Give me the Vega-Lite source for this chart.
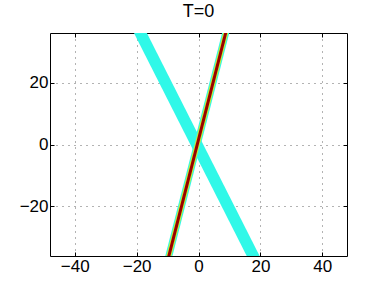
{
  "$schema": "https://vega.github.io/schema/vega-lite/v6.json",
  "width": 297,
  "height": 223,
  "autosize": {"type": "none"},
  "padding": {"left": 50, "top": 33, "right": 37, "bottom": 32},
  "title": {"text": "T=0", "fontSize": 18, "fontWeight": "normal", "font": "Liberation Sans", "offset": 12, "color": "black"},
  "config": {
    "view": {"stroke": "black", "strokeWidth": 1},
    "axis": {
      "domain": false,
      "gridColor": "#000000",
      "gridOpacity": 0.6,
      "gridDash": [1, 5],
      "tickColor": "#000000",
      "tickSize": -4,
      "labelFont": "Liberation Sans",
      "labelFontSize": 17,
      "labelColor": "#000000",
      "labelPadding": 6,
      "title": null
    }
  },
  "datasets": {
    "lines": [
      {"line": "wide", "x": -20.8, "y": 40},
      {"line": "wide", "x": 19.7, "y": -40},
      {"line": "narrow", "x": 9.8, "y": 40},
      {"line": "narrow", "x": -10.6, "y": -40}
    ]
  },
  "data": {"name": "lines"},
  "resolve": {"axis": {"x": "independent", "y": "independent"}},
  "layer": [
    {
      "transform": [{"filter": "datum.line == 'wide'"}],
      "mark": {"type": "line", "clip": true, "color": "#30f8e8", "strokeWidth": 11.5, "strokeCap": "butt"},
      "encoding": {
        "x": {"field": "x", "type": "quantitative", "scale": {"domain": [-48, 48], "nice": false, "zero": false}, "axis": {"values": [-40, -20, 0, 20, 40], "orient": "bottom", "grid": true}},
        "y": {"field": "y", "type": "quantitative", "scale": {"domain": [-36, 36], "nice": false, "zero": false}, "axis": {"values": [-20, 0, 20], "orient": "left", "grid": true}}
      }
    },
    {
      "transform": [{"filter": "datum.line == 'narrow'"}],
      "mark": {"type": "line", "clip": true, "color": "#30f8e8", "strokeWidth": 7, "strokeCap": "butt"},
      "encoding": {
        "x": {"field": "x", "type": "quantitative", "scale": {"domain": [-48, 48], "nice": false, "zero": false}, "axis": {"values": [-40, -20, 0, 20, 40], "orient": "top", "labels": false, "grid": false}},
        "y": {"field": "y", "type": "quantitative", "scale": {"domain": [-36, 36], "nice": false, "zero": false}, "axis": {"values": [-20, 0, 20], "orient": "right", "labels": false, "grid": false}}
      }
    },
    {
      "transform": [{"filter": "datum.line == 'narrow'"}],
      "mark": {"type": "line", "clip": true, "color": "#c8ee30", "strokeWidth": 5, "strokeCap": "butt"},
      "encoding": {
        "x": {"field": "x", "type": "quantitative", "scale": {"domain": [-48, 48], "nice": false, "zero": false}, "axis": null},
        "y": {"field": "y", "type": "quantitative", "scale": {"domain": [-36, 36], "nice": false, "zero": false}, "axis": null}
      }
    },
    {
      "transform": [{"filter": "datum.line == 'narrow'"}],
      "mark": {"type": "line", "clip": true, "color": "#9a0000", "strokeWidth": 3, "strokeCap": "butt"},
      "encoding": {
        "x": {"field": "x", "type": "quantitative", "scale": {"domain": [-48, 48], "nice": false, "zero": false}, "axis": null},
        "y": {"field": "y", "type": "quantitative", "scale": {"domain": [-36, 36], "nice": false, "zero": false}, "axis": null}
      }
    }
  ]
}
